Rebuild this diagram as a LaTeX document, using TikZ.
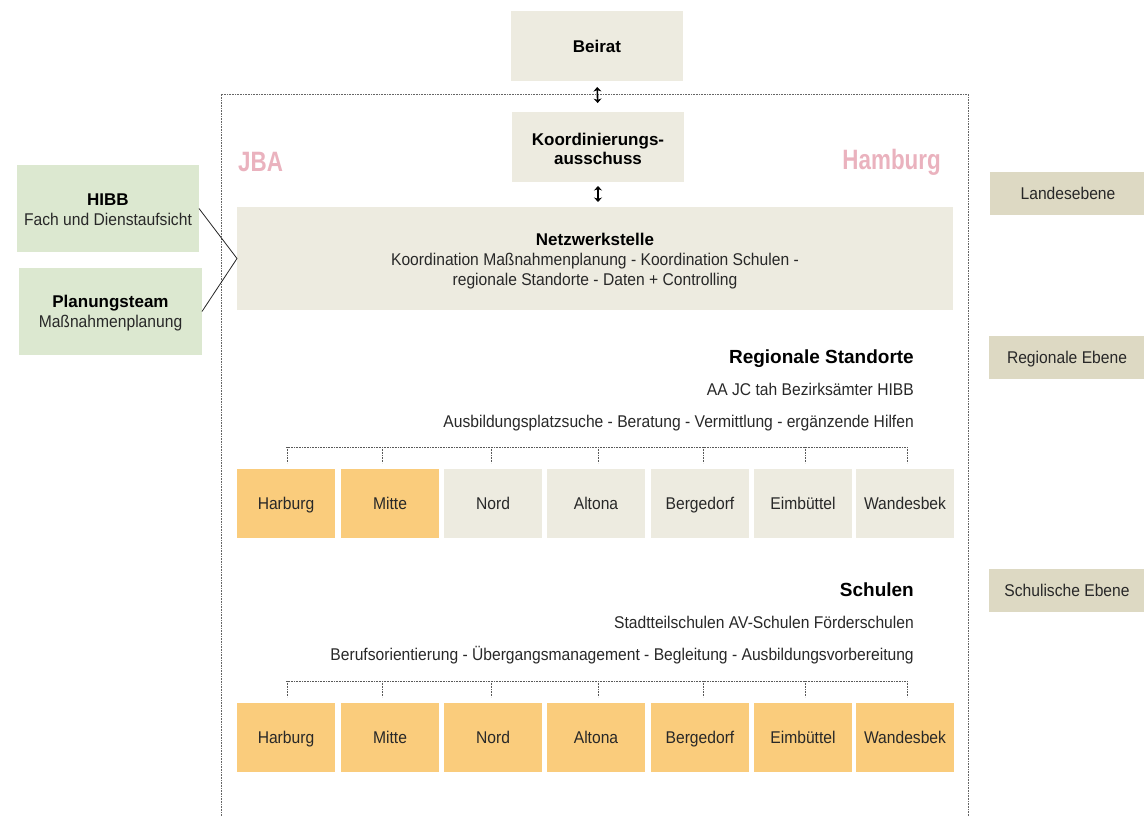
\documentclass[tikz,border=0pt]{standalone}
\usepackage{fontspec}
\setmainfont{Liberation Sans}
\newfontfamily\cond[FakeStretch=0.92]{Liberation Sans}
\newfontfamily\condb[FakeStretch=0.8]{Liberation Sans Bold}
\newcommand\hdf{\rmfamily\bfseries\fontsize{17}{20}\selectfont\color{black}}
\usetikzlibrary{arrows.meta}
\definecolor{beige}{RGB}{237,235,224}
\definecolor{lvl}{RGB}{221,217,195}
\definecolor{grn}{RGB}{220,232,208}
\definecolor{org}{RGB}{250,204,124}
\definecolor{pink}{RGB}{234,178,190}
\definecolor{txt}{RGB}{40,40,40}
\tikzset{
  base/.style={inner sep=0pt, outer sep=0pt, anchor=north west, align=center, text=txt,
    font=\cond\fontsize{17}{20}\selectfont},
  plain/.style={inner sep=0pt, outer sep=0pt, align=center, text=txt,
    font=\cond\fontsize{17}{20}\selectfont},
  beigebox/.style={base, fill=beige},
  greenbox/.style={base, fill=grn},
  orangebox/.style={base, fill=org},
  lvlbox/.style={base, fill=lvl, text height=12.2pt, text depth=0pt},
  dist/.style={minimum width=98pt, minimum height=69pt, text height=12.2pt, text depth=0pt},
  sechd/.style={inner sep=0pt, anchor=base east, font=\bfseries\fontsize{19}{22}\selectfont, text=black},
  sectxt/.style={inner sep=0pt, anchor=base east, text=txt, font=\cond\fontsize{17}{20}\selectfont},
  big/.style={inner sep=0pt, text=pink, font=\condb\fontsize{28}{30}\selectfont},
  frame/.style={draw=black!60, line width=0.6pt, dash pattern=on 0.8pt off 0.8pt},
  dots/.style={draw=black!65, line width=0.8pt, dash pattern=on 0.8pt off 0.8pt},
  dbl/.style={{Stealth[length=4.5pt,width=8pt]}-{Stealth[length=4.5pt,width=8pt]}, line width=1.6pt, black},
  link/.style={draw=black!85, line width=0.8pt}
}
\begin{document}
\begin{tikzpicture}[x=1pt,y=-1pt]
\useasboundingbox (0,0) rectangle (1144,816);
% outer frame
\draw[frame] (221,816) -- (221,94) -- (968,94) -- (968,816);
% top boxes
\node[beigebox, minimum width=172pt, minimum height=70pt] (beirat) at (511,11) {\hdf Beirat};
\node[beigebox, minimum width=172pt, minimum height=70pt] (koord) at (512,112) {};
\node[plain] (koordT) at ([yshift=-2pt]koord.center) {\hdf Koordinierungs-\\[-1pt]\hdf ausschuss};
\node[beigebox, minimum width=716pt, minimum height=103pt] (netz) at (237,207) {};
\node[plain] (netzT) at ([yshift=-3pt]netz.center)
  {{\hdf Netzwerkstelle}\\Koordination Maßnahmenplanung - Koordination Schulen -\\regionale Standorte - Daten + Controlling};
\draw[dbl, shorten <=6pt, shorten >=9pt] (beirat.south) -- (koord.north);
\draw[dbl, shorten <=4pt, shorten >=5pt] (koord.south) -- (netz.north -| koord.south);
% JBA / Hamburg
\node[big, anchor=west] (jba) at (238,162) {JBA};
\node[big, anchor=east] (hh) at (941,162) {Hamburg};
% left boxes
\node[greenbox, minimum width=182pt, minimum height=87pt] (hibb) at (17,165) {};
\node[plain] (hibbT) at ([yshift=-1pt]hibb.center) {{\hdf HIBB}\\Fach und Dienstaufsicht};
\node[greenbox, minimum width=183pt, minimum height=87pt] (plan) at (19,268) {};
\node[plain] (planT) at ([yshift=-1.5pt]plan.center) {{\hdf Planungsteam}\\Maßnahmenplanung};
\draw[link] (hibb.east) -- (netz.west) -- (plan.east);
% level labels
\node[lvlbox, minimum width=156pt, minimum height=43pt] (l1) at (990,172) {Landesebene};
\node[lvlbox, minimum width=156pt, minimum height=43pt] (l2) at (989,336) {Regionale Ebene};
\node[lvlbox, minimum width=156pt, minimum height=43pt] (l3) at (989,569) {Schulische Ebene};
% regional section
\node[sechd] (rsh) at (914,363) {Regionale Standorte};
\node[sectxt] (rs1) at (914,395.5) {AA JC tah Bezirksämter HIBB};
\node[sectxt] (rs2) at (914,427) {Ausbildungsplatzsuche - Beratung - Vermittlung - ergänzende Hilfen};
\node[orangebox, dist] (a1) at (237,469) {Harburg};
\node[orangebox, dist] (a2) at (341,469) {Mitte};
\node[beigebox, dist] (a3) at (444,469) {Nord};
\node[beigebox, dist] (a4) at (547,469) {Altona};
\node[beigebox, dist] (a5) at (651,469) {Bergedorf};
\node[beigebox, dist] (a6) at (754,469) {Eimbüttel};
\node[beigebox, dist] (a7) at (856,469) {Wandesbek};
\draw[dots] ([yshift=22pt]a1.north) -- ([yshift=22pt,xshift=2pt]a7.north);
\foreach \i/\dx in {1/1,2/-8,3/-2,4/2,5/3,6/2,7/2}
  \draw[dots] ([yshift=22pt,xshift=\dx pt]a\i.north) -- ([yshift=6pt,xshift=\dx pt]a\i.north);
% school section
\node[sechd] (sh) at (914,596) {Schulen};
\node[sectxt] (s1) at (914,628.5) {Stadtteilschulen AV-Schulen Förderschulen};
\node[sectxt] (s2) at (914,660) {Berufsorientierung - Übergangsmanagement - Begleitung - Ausbildungsvorbereitung};
\node[orangebox, dist] (b1) at (237,703) {Harburg};
\node[orangebox, dist] (b2) at (341,703) {Mitte};
\node[orangebox, dist] (b3) at (444,703) {Nord};
\node[orangebox, dist] (b4) at (547,703) {Altona};
\node[orangebox, dist] (b5) at (651,703) {Bergedorf};
\node[orangebox, dist] (b6) at (754,703) {Eimbüttel};
\node[orangebox, dist] (b7) at (856,703) {Wandesbek};
\draw[dots] ([yshift=22pt]b1.north) -- ([yshift=22pt,xshift=2pt]b7.north);
\foreach \i/\dx in {1/1,2/-8,3/-2,4/2,5/3,6/2,7/2}
  \draw[dots] ([yshift=22pt,xshift=\dx pt]b\i.north) -- ([yshift=6pt,xshift=\dx pt]b\i.north);
\end{tikzpicture}
\end{document}
